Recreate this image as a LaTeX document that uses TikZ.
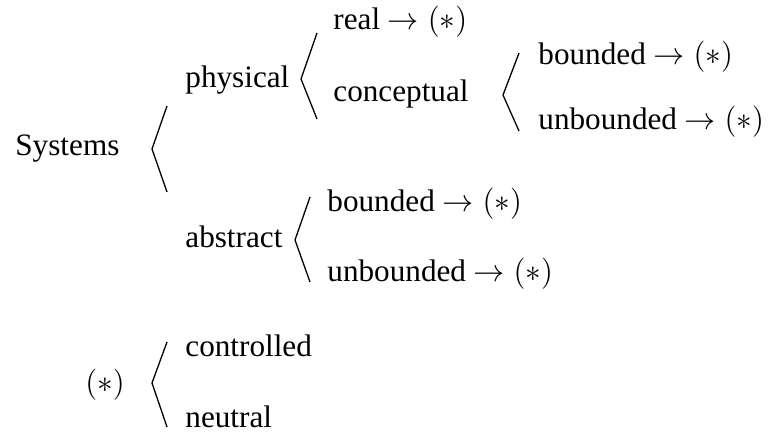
\documentclass[tikz,border=0pt]{standalone}
\usepackage{fix-cm}
\usepackage{fontspec}
\setmainfont{Liberation Serif}
\begin{document}
\begin{tikzpicture}[x=0.5pt,y=-0.5pt,
  lbl/.style={anchor=base west,inner sep=0pt,font=\fontsize{15.6}{19}\selectfont},
  brk/.style={line width=0.65pt,line join=miter}]
\useasboundingbox (0,0) rectangle (770,432);
% labels
\node[lbl] (sys) at (15,156) {Systems};
\node[lbl] (phys) at (185,88) {physical};
\node[lbl] (abs) at (185,248) {abstract};
\node[lbl] (real) at (333,30) {real $\rightarrow (*)$};
\node[lbl] (conc) at (333,102) {conceptual};
\node[lbl] (cb) at (538,65) {bounded $\rightarrow (*)$};
\node[lbl] (cu) at (538,130) {unbounded $\rightarrow (*)$};
\node[lbl] (ab) at (327,212) {bounded $\rightarrow (*)$};
\node[lbl] (au) at (327,282) {unbounded $\rightarrow (*)$};
\node[lbl] (star) at (85,393) {$(*)$};
\node[lbl] (ctrl) at (185,357) {controlled};
\node[lbl] (neut) at (185,427) {neutral};
% brackets
\draw[brk] (167,106) -- (152,149) -- (167,192);
\draw[brk] (317,33) -- (301,79) -- (317,119);
\draw[brk] (519,53) -- (503,95) -- (519,131);
\draw[brk] (310,197) -- (295,240) -- (310,282);
\draw[brk] (167,342) -- (152,383) -- (167,427);
\end{tikzpicture}
\end{document}
